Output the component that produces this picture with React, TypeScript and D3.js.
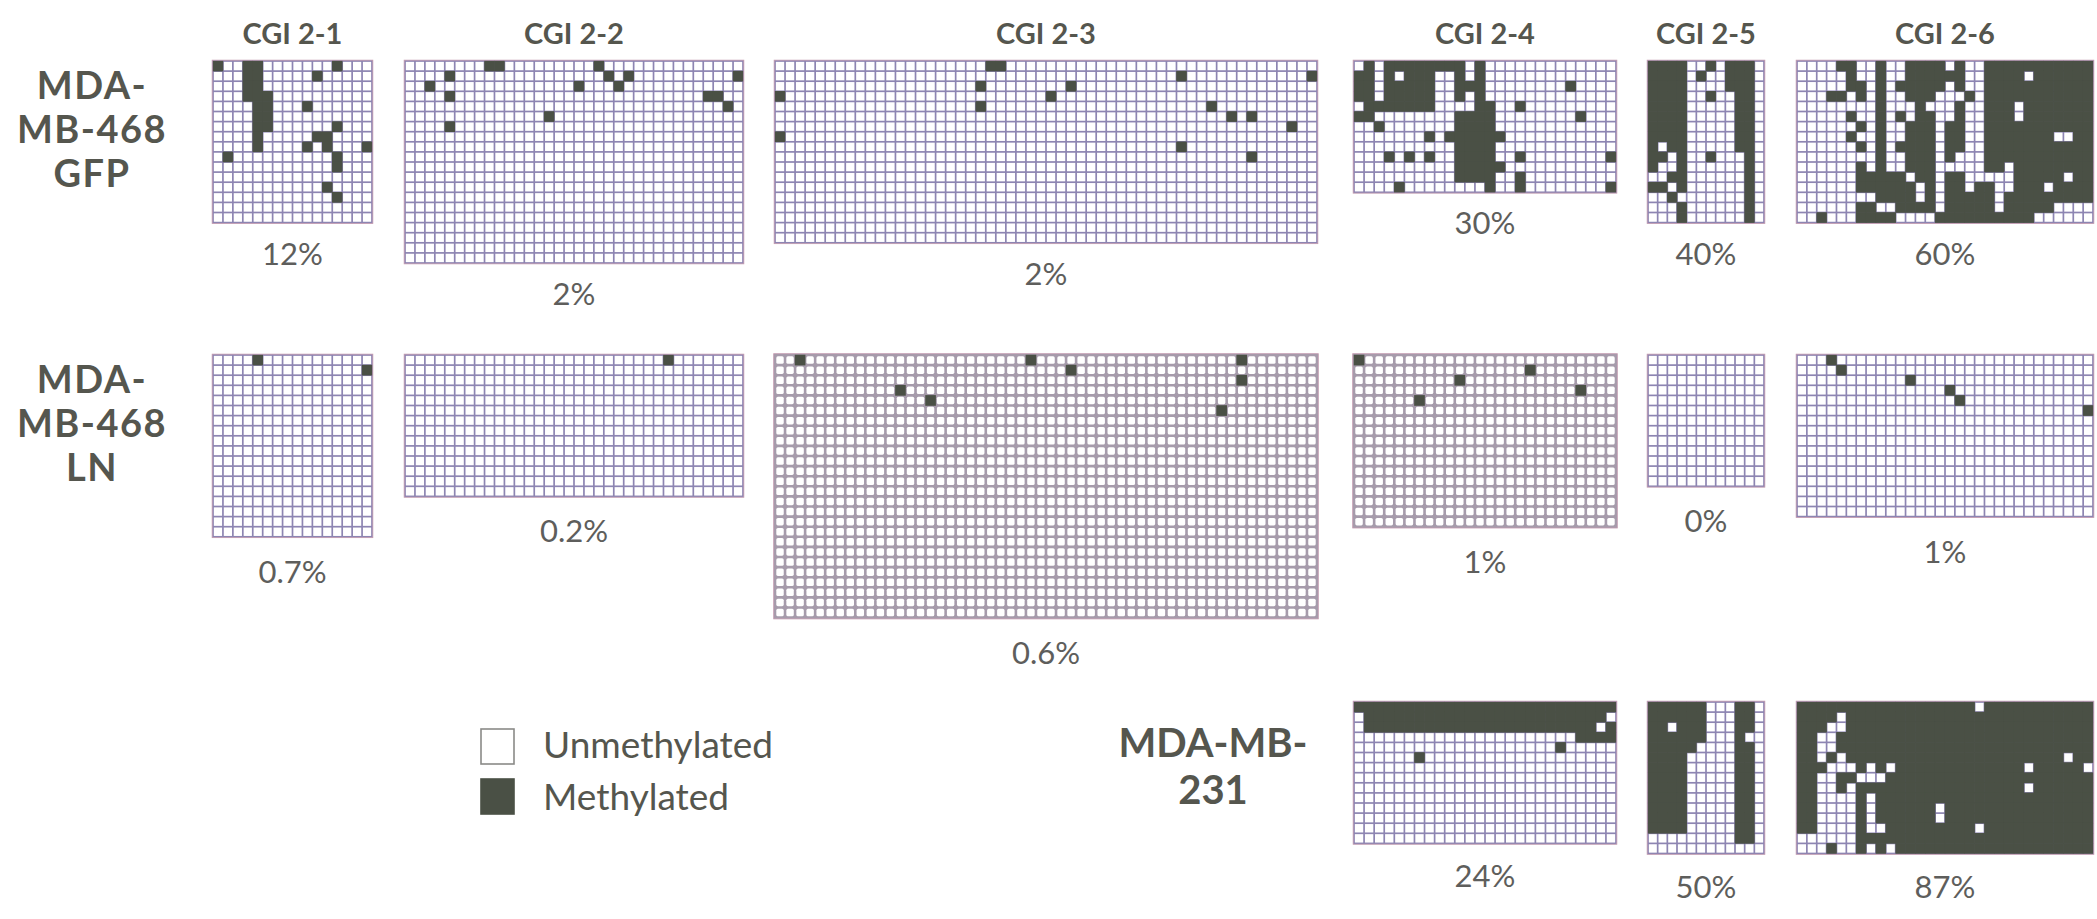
import React from "react";
import * as d3 from "d3";

type Cell = [number, number]; // [clone (row), CpG site (column)]

// ---- Regions (columns of panels) ----
const regionNames = ["CGI 2-1", "CGI 2-2", "CGI 2-3", "CGI 2-4", "CGI 2-5", "CGI 2-6"];
const regionCpgSites = [16, 34, 54, 26, 12, 30];

// ---- Samples (rows of panels) ----
const sampleLabelLines = [
  ["MDA-", "MB-468", "GFP"],
  ["MDA-", "MB-468", "LN"],
  ["MDA-MB-", "231"],
];

// clones sequenced per region (0 = region not shown for that sample)
const gfpClones = [16, 20, 18, 13, 16, 16];
const lnClones = [18, 14, 26, 17, 13, 16];
const mb231Clones = [0, 0, 0, 14, 15, 15];

// methylation percentage printed under each panel
const gfpPercent = ["12%", "2%", "2%", "30%", "40%", "60%"];
const lnPercent = ["0.7%", "0.2%", "0.6%", "1%", "0%", "1%"];
const mb231Percent = ["", "", "", "24%", "50%", "87%"];

// ---- Methylated CpGs: sparse panels as [clone, site] lists ----
const gfp21: Cell[] = [
  [0, 0], [0, 3], [0, 4], [1, 3], [1, 4], [2, 3], [2, 4], [3, 3], [3, 4], [3, 5],
  [4, 4], [4, 5], [5, 4], [5, 5], [6, 4], [6, 5], [7, 4], [8, 4],
  [0, 12], [1, 10], [4, 9], [6, 12], [7, 10], [7, 11], [8, 9], [8, 11], [8, 15],
  [9, 1], [9, 12], [10, 12], [12, 11], [13, 12],
];
const gfp22: Cell[] = [
  [0, 8], [0, 9], [1, 4], [2, 2], [3, 4], [6, 4], [5, 14], [2, 17], [0, 19], [1, 20],
  [2, 21], [1, 22], [3, 30], [3, 31], [4, 32], [1, 33],
];
const gfp23: Cell[] = [
  [0, 21], [0, 22], [2, 20], [4, 20], [3, 0], [7, 0], [3, 27], [2, 29], [1, 40], [8, 40],
  [1, 53], [4, 43], [5, 45], [5, 47], [6, 51], [9, 47],
];
const ln21: Cell[] = [[0, 4], [1, 15]];
const ln22: Cell[] = [[0, 26]];
const ln23: Cell[] = [[0, 2], [3, 12], [4, 15], [0, 25], [1, 29], [0, 46], [2, 46], [5, 44]];
const ln24: Cell[] = [[0, 0], [2, 10], [4, 6], [1, 17], [3, 22]];
const ln25: Cell[] = [];
const ln26: Cell[] = [[0, 3], [1, 4], [2, 11], [3, 15], [4, 16], [5, 29]];

// ---- Methylated CpGs: dense panels as clone strings ('#' methylated) ----
const gfp24Rows = [
  ".#.########.#.............",
  "##.#.###..#.#.............",
  "##.#####..###........#....",
  "##.#####..#.#.............",
  ".#######....##..#.........",
  "##........####........#...",
  "..#.......####............",
  ".......#.######...........",
  "..........####............",
  "...#.#.#..####..#........#",
  "..........#####...........",
  "..........####..#.........",
  "....#........#..#........#",
];
const gfp25Rows = [
  "####..#.###.",
  "####.#..###.",
  "####....###.",
  "####..#..##.",
  "####.....##.",
  "####.....##.",
  "####.....##.",
  "####.....##.",
  "#.##.....##.",
  "##.#..#...#.",
  "#..#......#.",
  "..##......#.",
  "##.#......#.",
  "..#.......#.",
  "...#......#.",
  "...#......#.",
];
const gfp26Rows = [
  "....##..#..####.#..###########",
  ".....#..#..######..####.######",
  ".....##.#.#####.#..###########",
  "...##.#.#..###...#.###########",
  "........#...#...#..###.#######",
  ".....#..#.#.##..#..###.#######",
  "......#.#..###.##..###########",
  ".....#..#..###.##..#######..##",
  "......#.#.####.##..###########",
  "........#..###.#...###########",
  "......#.#..###.....##.########",
  "......#####.##.##.....#####.##",
  "......######.#.##.##..###.####",
  "........####.#.#####.#########",
  "......##..####.#####.#####....",
  "..#...####....##########......",
];
const mb231_24Rows = [
  "##########################",
  ".########################.",
  ".#######################.#",
  "......................####",
  "....................#.....",
  "......#...................",
  "..........................",
  "..........................",
  "..........................",
  "..........................",
  "..........................",
  "..........................",
  "..........................",
  "..........................",
];
const mb231_25Rows = [
  "######...##.",
  "######...##.",
  "##.###...##.",
  "######...#..",
  "#####....##.",
  "####.....##.",
  "####.....##.",
  "####.....##.",
  "####.....##.",
  "####.....##.",
  "####.....##.",
  "####.....##.",
  "####.....##.",
  ".........##.",
  "............",
];
const mb231_26Rows = [
  "##################.###########",
  "####.#########################",
  "###..#########################",
  "##..##########################",
  "##..##########################",
  "##.#.######################.##",
  "###...#.#.#############.#####.",
  "##..##...#####################",
  "##..#.#################.######",
  "##....#.######################",
  "##....#.######.###############",
  "##....#.######.###############",
  "##....#..#########.###########",
  "......########################",
  "...#..#.#.####################",
];

const legendItems = ["Unmethylated", "Methylated"];

// ---- Page layout ----
const WIDTH = 2097;
const HEIGHT = 919;
const regionLeft = [213, 405, 775, 1354, 1648, 1797];
const regionRight = [372, 743, 1317, 1616, 1764, 2093];
const sampleTop = [61, 355, 702];
const cloneHeight = 10.1;

const DARK = "#4a5045";
const TEXT = "#55564e";
const PCT = "#5e5e5c";
const FONT = "Lato, 'Open Sans', sans-serif";

function rowsToCells(rows: string[]): Cell[] {
  const out: Cell[] = [];
  rows.forEach((s, r) => {
    for (let c = 0; c < s.length; c++) if (s[c] === "#") out.push([r, c]);
  });
  return out;
}

interface Panel {
  key: string;
  sample: number;
  region: number;
  clones: number;
  methylated: Cell[];
  percent: string;
  coarse: boolean;
}

const sampleClones = [gfpClones, lnClones, mb231Clones];
const samplePercent = [gfpPercent, lnPercent, mb231Percent];
const sampleCells: Cell[][][] = [
  [gfp21, gfp22, gfp23, rowsToCells(gfp24Rows), rowsToCells(gfp25Rows), rowsToCells(gfp26Rows)],
  [ln21, ln22, ln23, ln24, ln25, ln26],
  [[], [], [], rowsToCells(mb231_24Rows), rowsToCells(mb231_25Rows), rowsToCells(mb231_26Rows)],
];
// vertical gap between a panel's bottom edge and its percentage label (by sample)
const labelGap = [30, 34, 32];

const panels: Panel[] = [];
sampleClones.forEach((clones, s) => {
  clones.forEach((n, r) => {
    if (n > 0)
      panels.push({
        key: `${s}-${r}`,
        sample: s,
        region: r,
        clones: n,
        methylated: sampleCells[s][r],
        percent: samplePercent[s][r],
        // LN scans of CGI 2-3 / 2-4 were printed with heavier grid lines
        coarse: s === 1 && (r === 2 || r === 3),
      });
  });
});

function MethylationGrid({ p }: { p: Panel }) {
  const sites = regionCpgSites[p.region];
  const top = sampleTop[p.sample];
  const x = d3.scaleBand<number>().domain(d3.range(sites)).range([regionLeft[p.region], regionRight[p.region]]);
  const y = d3.scaleBand<number>().domain(d3.range(p.clones)).range([top, top + p.clones * cloneHeight]);
  const cw = x.bandwidth();
  const ch = y.bandwidth();
  const gap = p.coarse ? 2.6 : 1.7;
  const lineColor = p.coarse ? "#a69bab" : "#8d85b2";
  const set = new Set(p.methylated.map(([r, c]) => `${r},${c}`));
  const [y0, y1] = y.range();
  const [x0, x1] = x.range();
  const cells: React.ReactNode[] = [];
  for (let r = 0; r < p.clones; r++) {
    for (let c = 0; c < sites; c++) {
      if (set.has(`${r},${c}`)) continue;
      cells.push(
        <rect
          key={`w${r}-${c}`}
          x={(x(c) as number) + gap / 2}
          y={(y(r) as number) + gap / 2}
          width={cw - gap}
          height={ch - gap}
          rx={p.coarse ? 1.6 : 0}
          fill="#ffffff"
        />
      );
    }
  }
  const dark = p.methylated
    .filter(([r, c]) => r < p.clones && c < sites)
    .map(([r, c]) => (
      <rect
        key={`d${r}-${c}`}
        x={(x(c) as number) - 0.3}
        y={(y(r) as number) - 0.3}
        width={cw + 0.6}
        height={ch + 0.6}
        fill={DARK}
      />
    ));
  return (
    <g>
      <rect x={x0 - gap / 2} y={y0 - gap / 2} width={x1 - x0 + gap} height={y1 - y0 + gap} fill={lineColor} />
      {cells}
      {dark}
      <rect
        x={x0 - gap / 2}
        y={y0 - gap / 2}
        width={x1 - x0 + gap}
        height={y1 - y0 + gap}
        fill="none"
        stroke="#c49aae"
        strokeWidth={0.8}
      />
      <text
        x={(x0 + x1) / 2}
        y={y1 + labelGap[p.sample]}
        textAnchor="middle"
        dominantBaseline="central"
        fontFamily={FONT}
        fontSize={31}
        fill={PCT}
      >
        {p.percent}
      </text>
    </g>
  );
}

export default function App() {
  const headerY = 44;
  return (
    <svg
      width={WIDTH}
      height={HEIGHT}
      viewBox={`0 0 ${WIDTH} ${HEIGHT}`}
      style={{ position: "absolute", left: 0, top: 0, background: "#ffffff" }}
    >
      <rect width={WIDTH} height={HEIGHT} fill="#ffffff" />
      {regionNames.map((name, i) => (
        <text
          key={name}
          x={(regionLeft[i] + regionRight[i]) / 2}
          y={headerY}
          textAnchor="middle"
          fontFamily={FONT}
          fontWeight={700}
          fontSize={29}
          fill={TEXT}
        >
          {name}
        </text>
      ))}

      {/* sample labels */}
      {sampleLabelLines.slice(0, 2).map((lines, s) =>
        lines.map((l, k) => (
          <text
            key={`${s}-${k}`}
            x={92}
            y={sampleTop[s] + 38 + k * 44}
            textAnchor="middle"
            fontFamily={FONT}
            fontWeight={700}
            fontSize={38}
            letterSpacing={1.5}
            fill={TEXT}
          >
            {l}
          </text>
        ))
      )}
      {sampleLabelLines[2].map((l, k) => (
        <text
          key={`231-${k}`}
          x={1213}
          y={sampleTop[2] + 55 + k * 47}
          textAnchor="middle"
          fontFamily={FONT}
          fontWeight={700}
          fontSize={40}
          fill={TEXT}
        >
          {l}
        </text>
      ))}

      {panels.map((p) => (
        <MethylationGrid key={p.key} p={p} />
      ))}

      {/* legend */}
      {legendItems.map((label, i) => (
        <g key={label}>
          <rect
            x={481}
            y={729 + i * 50}
            width={33}
            height={35}
            fill={i === 0 ? "#ffffff" : DARK}
            stroke={i === 0 ? "#8a8a88" : DARK}
            strokeWidth={1.6}
          />
          <text x={543} y={758 + i * 52} fontFamily={FONT} fontSize={37} fill={TEXT}>
            {label}
          </text>
        </g>
      ))}
    </svg>
  );
}
